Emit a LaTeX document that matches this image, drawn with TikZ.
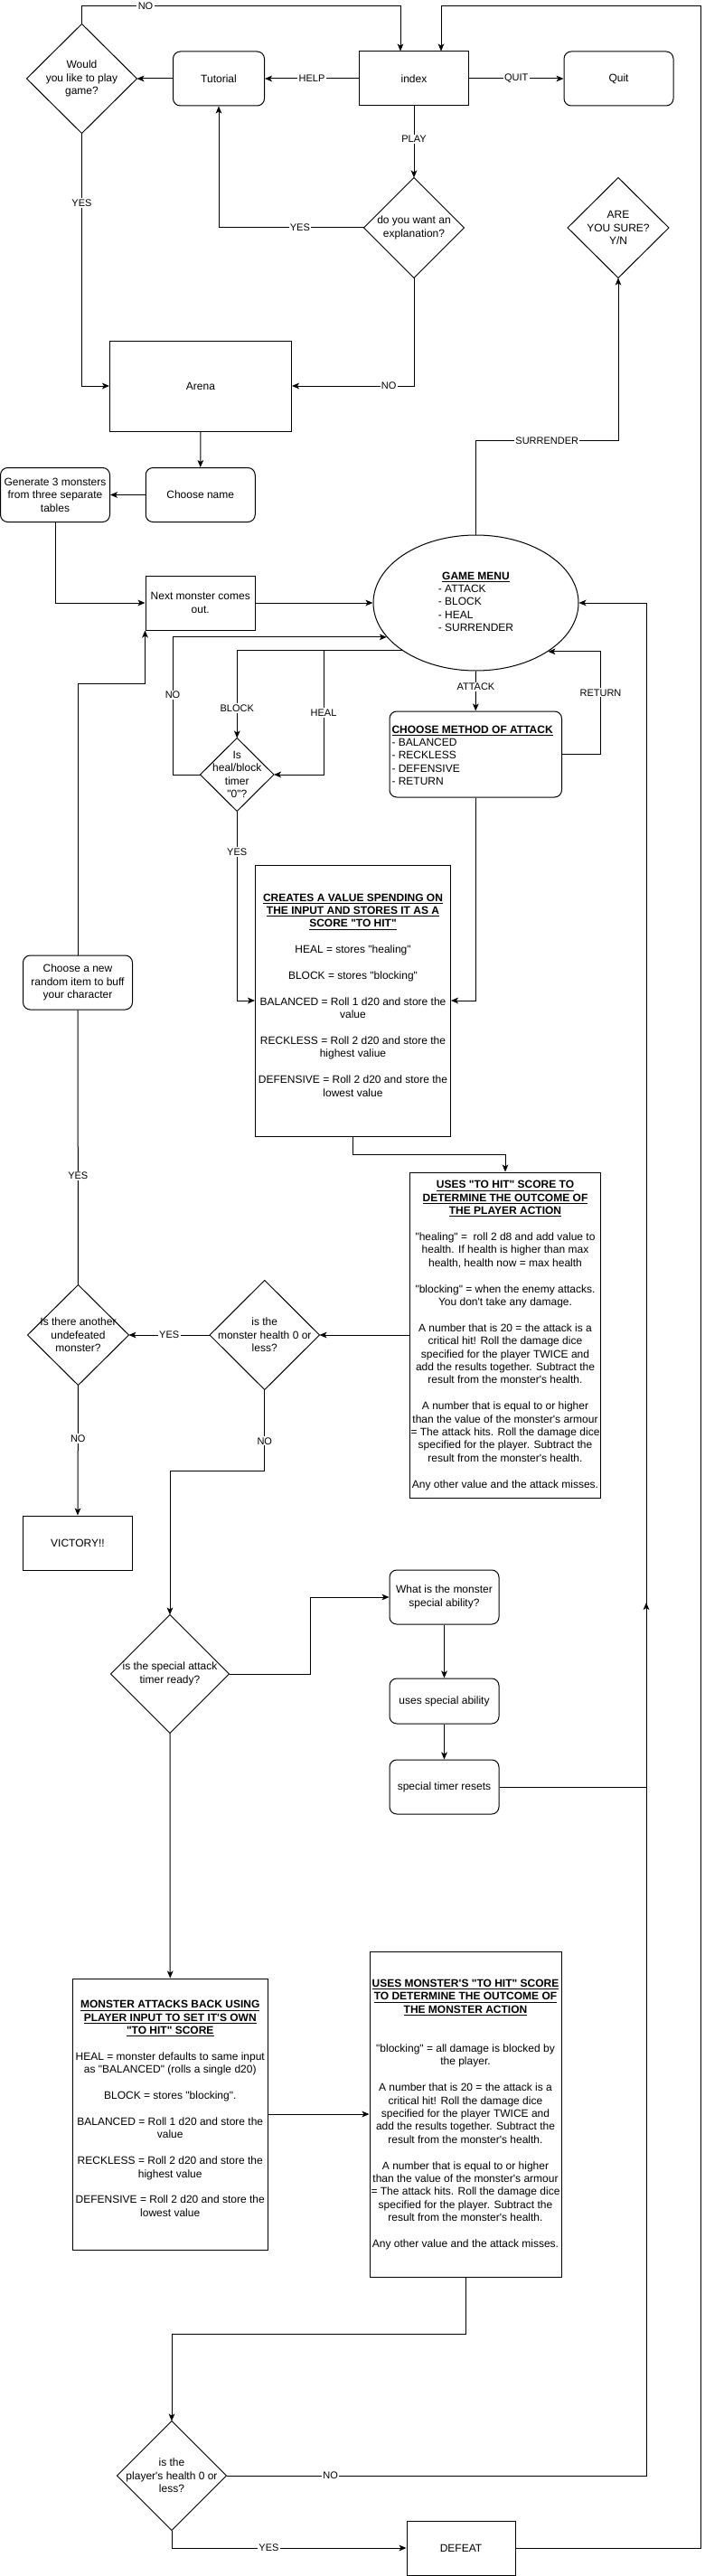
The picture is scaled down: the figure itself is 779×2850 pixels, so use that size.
\documentclass[tikz,border=0pt]{standalone}
\usepackage{fontspec}
\newfontfamily\dfont{Liberation Sans}
\usetikzlibrary{shapes.geometric,arrows.meta,calc}
\begin{document}
\begin{tikzpicture}[x=0.75pt,y=-0.75pt,line width=0.75pt,
  font=\dfont\fontsize{9}{10.8}\selectfont,
  box/.style 2 args={rectangle,draw,minimum width=#1*0.75pt,minimum height=#2*0.75pt,inner sep=0pt,align=center},
  rbox/.style 2 args={box={#1}{#2},rounded corners=6pt},
  dia/.style 2 args={rectangle,minimum width=#1*0.75pt,minimum height=#2*0.75pt,inner sep=0pt,align=center},
  txt/.style={inner sep=0pt,align=center},
  ar/.style={-{Stealth[length=6pt,width=5pt,inset=1.5pt]}},
  lbl/.style={fill=white,inner sep=1pt,font=\dfont\fontsize{8.25}{9.9}\selectfont}]
\useasboundingbox (0,0) rectangle (779,2850);
\coordinate (rx) at (715,0);
\coordinate (hx) at (358,0);
\coordinate (topR) at (775,7);
\coordinate (stend) at (715,1773);

% nodes
\node[box={121}{60}] (idx) at (458,87) {index};
\node[rbox={101}{60}] (tut) at (242,87) {Tutorial};
\node[rbox={121}{60}] (quit) at (684.5,87) {Quit};
\node[dia={121}{120}] (wy) at (90.5,87) {Would\\you like to play\\game?};
\node[dia={110}{110}] (ex) at (458,252) {do you want an\\explanation?};
\node[dia={111}{110}] (ays) at (684,252) {ARE\\YOU SURE?\\Y/N};
\node[box={201}{100}] (arena) at (222,427) {Arena};
\node[rbox={121}{60}] (cn) at (221.75,547.5) {Choose name};
\node[rbox={121}{60}] (gen) at (61,547.5) {Generate 3 monsters\\from three separate\\tables};
\node[box={121.5}{60}] (nm) at (221.75,667) {Next monster comes\\out.};
\node[ellipse,draw,minimum width=227*0.75pt,minimum height=150*0.75pt,inner sep=0pt] (gm) at (526.5,667)
  {\begin{tabular}{@{}l@{}}\multicolumn{1}{@{}c@{}}{\underline{\textbf{GAME MENU}}}\\- ATTACK\\- BLOCK\\- HEAL\\- SURRENDER\end{tabular}};
\node[rbox={190.5}{95}] (cm) at (526.25,834.5) {};
\node[txt,anchor=west,align=left] (cmt) at (433,835.7)
  {\underline{\textbf{CHOOSE METHOD OF ATTACK}}\\- BALANCED\\- RECKLESS\\- DEFENSIVE\\- RETURN};
\node[dia={80.5}{80}] (hb) at (262.25,857) {Is\\heal/block\\timer\\"0"?};
\node[box={216}{300}] (cr) at (390.5,1107) {};
\node[txt] (crt) at (390.5,1101) {\underline{\textbf{CREATES A VALUE SPENDING ON}}\\
\underline{\textbf{THE INPUT AND STORES IT AS A}}\\
\underline{\textbf{SCORE "TO HIT"}}\\[10.8pt]
HEAL = stores "healing"\\[10.8pt]
BLOCK = stores "blocking"\\[10.8pt]
BALANCED = Roll 1 d20 and store the\\ value\\[10.8pt]
RECKLESS = Roll 2 d20 and store the\\ highest valiue\\[10.8pt]
DEFENSIVE = Roll 2 d20 and store the\\ lowest value};
\node[rbox={121}{60}] (ci) at (86,1087) {Choose a new\\random item to buff\\your character};
\node[box={211}{360}] (up) at (559,1477) {};
\node[txt] (upt) at (559,1477.5) {\underline{\textbf{USES "TO HIT" SCORE TO}}\\
\underline{\textbf{DETERMINE THE OUTCOME OF}}\\
\underline{\textbf{THE PLAYER ACTION}}\\[10.8pt]
"healing" =\ \ roll 2 d8 and add value to\\
health. If health is higher than max\\
health, health now = max health\\[10.8pt]
"blocking" = when the enemy attacks.\\
You don't take any damage.\\[10.8pt]
A number that is 20 = the attack is a\\
critical hit! Roll the damage dice\\
specified for the player TWICE and\\
add the results together. Subtract the\\
result from the monster's health.\\[10.8pt]
A number that is equal to or higher\\
than the value of the monster's armour\\
= The attack hits. Roll the damage dice\\
specified for the player. Subtract the\\
result from the monster's health.\\[10.8pt]
Any other value and the attack misses.};
\node[dia={120.5}{120}] (mh) at (292.75,1477) {is the\\monster health 0 or\\less?};
\node[dia={111}{110}] (ia) at (86.5,1477) {Is there another\\undefeated\\monster?};
\node[box={121}{60}] (vic) at (86,1707) {VICTORY!!};
\node[dia={130}{130}] (sa) at (188,1852) {is the special attack\\timer ready?};
\node[rbox={121}{60}] (ws) at (491.5,1767) {What is the monster\\special ability?};
\node[rbox={121}{50}] (us) at (491.5,1882) {uses special ability};
\node[rbox={121}{60}] (st) at (491.5,1977) {special timer resets};
\node[box={216.5}{300}] (ma) at (188.25,2339) {};
\node[txt] (mat) at (188.25,2333) {\underline{\textbf{MONSTER ATTACKS BACK USING}}\\
\underline{\textbf{PLAYER INPUT TO SET IT'S OWN}}\\
\underline{\textbf{"TO HIT" SCORE}}\\[10.8pt]
HEAL = monster defaults to same input\\
as "BALANCED" (rolls a single d20)\\[10.8pt]
BLOCK = stores "blocking".\\[10.8pt]
BALANCED = Roll 1 d20 and store the\\ value\\[10.8pt]
RECKLESS = Roll 2 d20 and store the\\ highest value\\[10.8pt]
DEFENSIVE = Roll 2 d20 and store the\\ lowest value};
\node[box={212}{360}] (um) at (515,2339) {};
\node[txt] (umt) at (515,2339.5) {\underline{\textbf{USES MONSTER'S "TO HIT" SCORE}}\\
\underline{\textbf{TO DETERMINE THE OUTCOME OF}}\\
\underline{\textbf{THE MONSTER ACTION}}\\[21.6pt]
"blocking" = all damage is blocked by\\ the player.\\[10.8pt]
A number that is 20 = the attack is a\\ critical hit! Roll the damage dice\\ specified for the player TWICE and\\ add the results together. Subtract the\\ result from the monster's health.\\[10.8pt]
A number that is equal to or higher\\ than the value of the monster's armour\\ = The attack hits. Roll the damage dice\\ specified for the player. Subtract the\\ result from the monster's health.\\[10.8pt]
Any other value and the attack misses.};
\node[dia={120}{120}] (ph) at (190,2739) {is the\\player's health 0 or\\less?};
\node[box={120}{60}] (df) at (510,2819) {DEFEAT};

% diamonds
\foreach \n in {wy,ex,ays,hb,mh,ia,sa,ph}{\draw (\n.north) -- (\n.east) -- (\n.south) -- (\n.west) -- cycle;}

% connectors
\draw[ar] (idx.west) -- node[lbl]{HELP} (tut.east);
\draw[ar] (idx.east) -- node[lbl]{QUIT} (quit.west);
\draw[ar] (tut.west) -- (wy.east);
\draw[ar] (idx.south) -- node[lbl,pos=0.46]{PLAY} (ex.north);
\draw[ar] (ex.west) -| node[lbl,pos=0.22]{YES} (tut.south);
\draw[ar] (wy.north) -- ++(0,-20) -| node[lbl,pos=0.1]{NO} ($(idx.north)+(-15,0)$);
\draw[ar] (wy.south) |- node[lbl,pos=0.1375]{YES} (arena.west);
\draw[ar] (ex.south) |- node[lbl,pos=0.603]{NO} (arena.east);
\draw[ar] (arena.south) -- (cn.north);
\draw[ar] (cn.west) -- (gen.east);
\draw[ar] (gen.south) |- (nm.west);
\draw[ar] (nm.east) -- (gm.west);
\draw[ar] (gm.north) -- ++(0,-104) -| node[lbl,pos=0.25]{SURRENDER} (ays.south);
\draw[ar] (gm.south) -- node[lbl,pos=0.4]{ATTACK} (cm.north);
\draw[ar] (cm.east) -- ++(42.5,0) |- node[lbl,pos=0.3]{RETURN} (gm.326.6);
\draw[ar] (gm.213.4) -| node[lbl,pos=0.83]{BLOCK} (hb.north);
\draw[ar] (gm.213.4 -| hx) |- node[lbl,pos=0.25]{HEAL} (hb.east);
\draw[ar] (hb.west) -- ++(-30.5,0) |- node[lbl,pos=0.29]{NO} (gm.201.2);
\draw[ar] (cm.south) |- (cr.east);
\draw[ar] (hb.south) |- node[lbl,pos=0.107]{YES} (cr.west);
\draw[ar] (cr.south) -- ++(0,20) -| (up.north);
\draw[ar] (up.west) -- (mh.east);
\draw[ar] (mh.west) -- node[lbl]{YES} (ia.east);
\draw[ar] (ia.south) -- node[lbl,pos=0.41]{NO} (vic.north);
\draw (ia.north) -- node[lbl,pos=0.397]{YES} (ci.south);
\draw[ar] (ci.north) -- ++(0,-300) -| (nm.south west);
\draw[ar] (mh.south) -- node[lbl,pos=0.63]{NO} ++(0,90) -| (sa.north);
\draw[ar] (sa.east) -- ++(89.5,0) |- (ws.west);
\draw[ar] (ws.south) -- (us.north);
\draw[ar] (us.south) -- (st.north);
\draw[ar] (st.east) -| (stend);
\draw[ar] (sa.south) -- (ma.north);
\draw[ar] (ma.east) -- (um.west);
\draw[ar] (um.south) -- ++(0,63) -| (ph.north);
\draw[ar] (ph.east) -| node[lbl,pos=0.124]{NO} (rx |- gm.east) -- (gm.east);
\draw[ar] (ph.south) |- node[lbl,pos=0.707]{YES} (df.west);
\draw[ar] (df.east) -| (topR) -| ($(idx.north)+(30,0)$);
\end{tikzpicture}
\end{document}
